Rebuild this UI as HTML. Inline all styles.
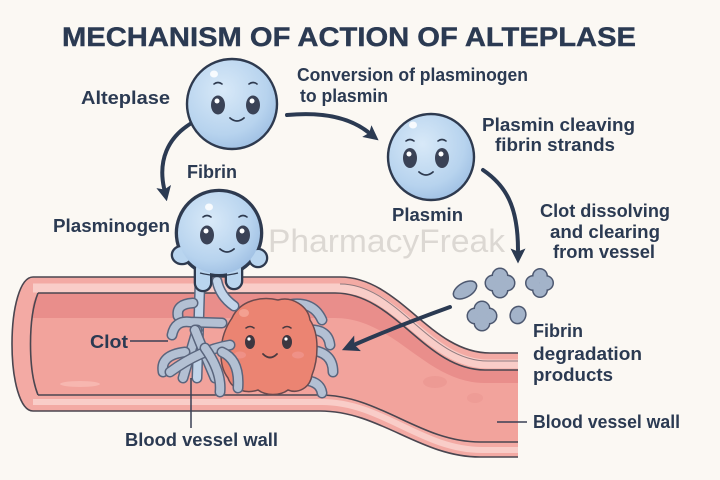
<!DOCTYPE html>
<html><head><meta charset="utf-8"><style>
html,body{margin:0;padding:0;background:#fbf8f3;}
svg{display:block;}
text{font-family:"Liberation Sans",sans-serif;font-weight:bold;fill:#2b3a52;}
</style></head><body>
<svg width="720" height="480" viewBox="0 0 720 480" xmlns="http://www.w3.org/2000/svg">
<defs>
<radialGradient id="bg" cx="0.4" cy="0.35" r="0.7">
<stop offset="0" stop-color="#d8e9f8"/><stop offset="0.7" stop-color="#b7d3ee"/><stop offset="1" stop-color="#9ebfe3"/>
</radialGradient>
<marker id="ah" viewBox="0 0 10 10" refX="1" refY="5" markerWidth="15" markerHeight="15" markerUnits="userSpaceOnUse" orient="auto">
<path d="M0,0 L10,5 L0,10 L2,5 z" fill="#2b3a52"/>
</marker>
<marker id="ah2" viewBox="0 0 10 10" refX="1" refY="5" markerWidth="17" markerHeight="17" markerUnits="userSpaceOnUse" orient="auto">
<path d="M0,0 L10,5 L0,10 L2,5 z" fill="#2b3a52"/>
</marker>
</defs>
<rect width="720" height="480" fill="#fbf8f3"/>

<!-- Title -->
<text x="62" y="46" font-size="27" textLength="574" lengthAdjust="spacingAndGlyphs" fill="#2e3d57" stroke="#2e3d57" stroke-width="0.4">MECHANISM OF ACTION OF ALTEPLASE</text>

<!-- Watermark -->
<text x="268" y="252" font-size="32" textLength="237" lengthAdjust="spacingAndGlyphs" style="font-weight:normal;fill:#dcd8d3">PharmacyFreak</text>

<!-- Arrows -->
<g fill="none" stroke="#2b3a52" stroke-width="4" stroke-linecap="round">
<path d="M287,115 Q340,110 368,132" marker-end="url(#ah)"/>
<path d="M190,124 C168,138 158,160 164,188" marker-end="url(#ah)"/>
<path d="M483,170 C505,185 518,205 518,250" marker-end="url(#ah)"/>
</g>

<!-- Alteplase -->
<circle cx="232" cy="104" r="45" fill="url(#bg)" stroke="#2e3a4f" stroke-width="2.4"/>
<ellipse cx="214" cy="74" rx="4" ry="3.5" fill="#fff" opacity="0.85"/>
<g fill="none" stroke="#2e3a4f" stroke-width="1.6" stroke-linecap="round">
<path d="M214,84 Q218,81 222,84"/><path d="M249,84 Q253,81 257,84"/>
<path d="M230,118 Q237,124 244,118" stroke-width="1.8"/>
</g>
<ellipse cx="218" cy="105" rx="7" ry="9.5" fill="#3a4256"/><circle cx="217" cy="101" r="2.5" fill="#fff"/>
<ellipse cx="253" cy="105" rx="7" ry="9.5" fill="#3a4256"/><circle cx="252" cy="101" r="2.5" fill="#fff"/>

<!-- Plasmin -->
<circle cx="431" cy="157" r="43" fill="url(#bg)" stroke="#2e3a4f" stroke-width="2.4"/>
<ellipse cx="413" cy="125" rx="4" ry="3.5" fill="#fff" opacity="0.85"/>
<g fill="none" stroke="#2e3a4f" stroke-width="1.6" stroke-linecap="round">
<path d="M406,141 Q410,138 414,141"/><path d="M438,141 Q442,138 446,141"/>
<path d="M419,172 Q426,178 433,172" stroke-width="1.8"/>
</g>
<ellipse cx="410" cy="158" rx="7" ry="10" fill="#3a4256"/><circle cx="409" cy="154" r="2.5" fill="#fff"/>
<ellipse cx="442" cy="158" rx="7" ry="10" fill="#3a4256"/><circle cx="441" cy="154" r="2.5" fill="#fff"/>

<!-- Vessel -->
<path d="M33,277 L340,277 C400,277 430,353 490,353 L518,353 L518,457 L480,457 C420,457 380,411 320,411 L33,411 C20,411 12,380 12,344 C12,308 20,277 33,277 Z" fill="#f3aaa4"/>
<path d="M33,288 L338,288 C398,288 428,364 488,364 L518,364" fill="none" stroke="#f9cdc8" stroke-width="9"/>
<path d="M33,402 L322,402 C382,402 422,450 482,450 L518,450" fill="none" stroke="#f9cdc8" stroke-width="6"/>
<path d="M38,293 L335,293 C395,293 425,370 485,370 L518,370 L518,442 L480,442 C420,442 380,395 320,395 L38,395 C28,370 28,318 38,293 Z" fill="#f2a39c"/>
<path d="M38,293 L335,293 C395,293 425,370 485,370 L518,370 L518,383 L485,383 C425,383 395,318 335,318 L33,318 C31,308 33,300 38,293 Z" fill="#e98e8b"/>
<ellipse cx="80" cy="384" rx="20" ry="3" fill="#f7bcb5" opacity="0.8"/>
<ellipse cx="435" cy="382" rx="12" ry="6" fill="#e99590" opacity="0.6"/>
<ellipse cx="475" cy="398" rx="8" ry="5" fill="#e99590" opacity="0.5"/>
<g fill="none" stroke="#4a4650" stroke-width="1.6">
<path d="M518,353 L490,353 C430,353 400,277 340,277 L33,277 C20,277 12,308 12,344 C12,380 20,411 33,411 L320,411 C380,411 420,457 480,457 L518,457"/>
<path d="M38,293 L335,293 C395,293 425,370 485,370 L518,370"/>
<path d="M38,395 L320,395 C380,395 420,442 480,442 L518,442"/>
<path d="M38,293 C28,318 28,370 38,395"/>
<path d="M340,284 C398,284 428,361 488,361 L518,361" stroke-width="1" opacity="0.6"/>
</g>

<!-- Fibrin strands right (behind clot) -->
<g fill="none" stroke-linecap="round">
<g stroke="#5a657d" stroke-width="11">
<path d="M283,306 Q312,298 322,320"/><path d="M306,330 Q328,328 330,345"/>
<path d="M310,350 Q333,352 333,372"/><path d="M300,380 Q320,380 322,393"/>
</g>
<g stroke="#b3c0d3" stroke-width="8">
<path d="M283,306 Q312,298 322,320"/><path d="M306,330 Q328,328 330,345"/>
<path d="M310,350 Q333,352 333,372"/><path d="M300,380 Q320,380 322,393"/>
</g>
</g>

<!-- Clot -->
<path d="M232,318 C240,300 262,296 278,300 C292,296 308,306 310,320 C320,335 318,360 312,375 C310,388 298,394 288,390 C280,396 266,396 258,390 C246,394 232,390 228,378 C218,365 218,338 232,318 Z" fill="#eb8472" stroke="#6b4a4e" stroke-width="1.5"/>
<ellipse cx="244" cy="313" rx="5" ry="4" fill="#f5a899" opacity="0.8"/>
<ellipse cx="240" cy="355" rx="6" ry="3.5" fill="#f29a96" opacity="0.6"/>
<ellipse cx="298" cy="355" rx="6" ry="3.5" fill="#f29a96" opacity="0.6"/>
<g fill="none" stroke="#4b3a40" stroke-width="1.5" stroke-linecap="round">
<path d="M246,328 Q250,325 254,328"/><path d="M283,328 Q287,325 291,328"/>
<path d="M263,354 Q270,361 277,354" stroke-width="1.8"/>
</g>
<ellipse cx="250" cy="342" rx="5" ry="7" fill="#3d3640"/><circle cx="249" cy="339" r="1.6" fill="#fff"/>
<ellipse cx="287" cy="342" rx="5" ry="7" fill="#3d3640"/><circle cx="286" cy="339" r="1.6" fill="#fff"/>

<!-- Stalks from plasminogen -->
<g fill="none" stroke-linecap="round">
<path d="M200,282 L197,378" stroke="#5a657d" stroke-width="11"/>
<path d="M200,282 L197,378" stroke="#c2d5ea" stroke-width="8"/>
<path d="M217,281 Q220,296 234,306" stroke="#5a657d" stroke-width="11"/>
<path d="M217,281 Q220,296 234,306" stroke="#c2d5ea" stroke-width="8"/>
</g>

<!-- Fibrin strands left (over clot) -->
<g fill="none" stroke-linecap="round">
<path d="M193,303 Q176,304 178,316" stroke="#5a657d" stroke-width="11"/><path d="M193,303 Q176,304 178,316" stroke="#b3c0d3" stroke-width="8"/>
<path d="M172,335 Q175,320 190,322 L222,323" stroke="#5a657d" stroke-width="11"/><path d="M172,335 Q175,320 190,322 L222,323" stroke="#b3c0d3" stroke-width="8"/>
<path d="M183,378 L197,330" stroke="#5a657d" stroke-width="11"/><path d="M183,378 L197,330" stroke="#b3c0d3" stroke-width="8"/>
<path d="M195,330 Q205,355 215,378" stroke="#5a657d" stroke-width="11"/><path d="M195,330 Q205,355 215,378" stroke="#b3c0d3" stroke-width="8"/>
<path d="M185,352 Q160,355 163,372" stroke="#5a657d" stroke-width="11"/><path d="M185,352 Q160,355 163,372" stroke="#b3c0d3" stroke-width="8"/>
<path d="M170,372 Q200,350 230,345" stroke="#5a657d" stroke-width="11"/><path d="M170,372 Q200,350 230,345" stroke="#b3c0d3" stroke-width="8"/>
<path d="M222,352 Q240,360 238,388" stroke="#5a657d" stroke-width="11"/><path d="M222,352 Q240,360 238,388" stroke="#b3c0d3" stroke-width="8"/>
<path d="M205,348 Q222,372 220,392" stroke="#5a657d" stroke-width="11"/><path d="M205,348 Q222,372 220,392" stroke="#b3c0d3" stroke-width="8"/>
</g>

<!-- Plasminogen -->
<g fill="#2e3a4f" stroke="#2e3a4f" stroke-width="4.6">
<circle cx="219" cy="233" r="42"/>
<ellipse cx="182" cy="255" rx="9" ry="8"/>
<ellipse cx="258" cy="258" rx="8" ry="8"/>
<rect x="196" y="262" width="14" height="28" rx="7"/>
<rect x="227" y="262" width="14" height="26" rx="7"/>
</g>
<g fill="#b9d5ef">
<ellipse cx="182" cy="255" rx="9" ry="8"/>
<ellipse cx="258" cy="258" rx="8" ry="8"/>
<rect x="196" y="262" width="14" height="28" rx="7"/>
<rect x="227" y="262" width="14" height="26" rx="7"/>
</g>
<circle cx="219" cy="233" r="41" fill="url(#bg)"/>
<path d="M200,273 Q219,278 238,273" fill="none" stroke="#2e3a4f" stroke-width="1.4"/>
<ellipse cx="209" cy="207" rx="4" ry="3.5" fill="#fff" opacity="0.85"/>
<g fill="none" stroke="#2e3a4f" stroke-width="1.6" stroke-linecap="round">
<path d="M203,217 Q207,214 211,217"/><path d="M239,217 Q243,214 247,217"/>
<path d="M220,249 Q227,255 234,249" stroke-width="1.8"/>
</g>
<ellipse cx="207" cy="235" rx="7" ry="9.5" fill="#3a4256"/><circle cx="206" cy="231" r="2.5" fill="#fff"/>
<ellipse cx="243" cy="235" rx="7" ry="9.5" fill="#3a4256"/><circle cx="242" cy="231" r="2.5" fill="#fff"/>

<!-- Fibrin degradation products -->
<g fill="#4d5870" stroke="#4d5870" stroke-width="3">
<ellipse cx="465" cy="290" rx="12" ry="6.5" transform="rotate(-30 465 290)"/>
<circle cx="493" cy="283" r="7"/><circle cx="507" cy="283" r="7"/><circle cx="500" cy="276" r="7"/><circle cx="500" cy="290" r="7"/>
<circle cx="533" cy="283" r="6.5"/><circle cx="546" cy="283" r="6.5"/><circle cx="540" cy="276" r="6.5"/><circle cx="540" cy="290" r="6.5"/>
<circle cx="475" cy="316" r="7"/><circle cx="489" cy="316" r="7"/><circle cx="482" cy="309" r="7"/><circle cx="482" cy="323" r="7"/>
<ellipse cx="518" cy="315" rx="7" ry="8" transform="rotate(20 518 315)"/>
</g>
<g fill="#a3b3c9">
<ellipse cx="465" cy="290" rx="12" ry="6.5" transform="rotate(-30 465 290)"/>
<circle cx="493" cy="283" r="7"/><circle cx="507" cy="283" r="7"/><circle cx="500" cy="276" r="7"/><circle cx="500" cy="290" r="7"/>
<circle cx="533" cy="283" r="6.5"/><circle cx="546" cy="283" r="6.5"/><circle cx="540" cy="276" r="6.5"/><circle cx="540" cy="290" r="6.5"/>
<circle cx="475" cy="316" r="7"/><circle cx="489" cy="316" r="7"/><circle cx="482" cy="309" r="7"/><circle cx="482" cy="323" r="7"/>
<ellipse cx="518" cy="315" rx="7" ry="8" transform="rotate(20 518 315)"/>
</g>

<!-- Arrow to clot -->
<path d="M450,307 Q400,325 356,344" fill="none" stroke="#2b3a52" stroke-width="4" stroke-linecap="round" marker-end="url(#ah2)"/>

<!-- Leader lines -->
<g stroke="#3a4055" stroke-width="1.5">
<line x1="130" y1="341" x2="168" y2="341"/>
<line x1="191" y1="378" x2="191" y2="428"/>
<line x1="497" y1="422" x2="527" y2="422"/>
</g>

<!-- Labels -->
<g font-size="18">
<text x="81" y="104" textLength="89" lengthAdjust="spacingAndGlyphs">Alteplase</text>
<text x="297" y="81" textLength="231" lengthAdjust="spacingAndGlyphs">Conversion of plasminogen</text>
<text x="300" y="102" textLength="88" lengthAdjust="spacingAndGlyphs">to plasmin</text>
<text x="482" y="131" textLength="153" lengthAdjust="spacingAndGlyphs">Plasmin cleaving</text>
<text x="495" y="151" textLength="120" lengthAdjust="spacingAndGlyphs">fibrin strands</text>
<text x="187" y="178" textLength="50" lengthAdjust="spacingAndGlyphs">Fibrin</text>
<text x="53" y="232" textLength="117" lengthAdjust="spacingAndGlyphs">Plasminogen</text>
<text x="392" y="221" textLength="71" lengthAdjust="spacingAndGlyphs">Plasmin</text>
<text x="540" y="217" textLength="130" lengthAdjust="spacingAndGlyphs">Clot dissolving</text>
<text x="550" y="238" textLength="110" lengthAdjust="spacingAndGlyphs">and clearing</text>
<text x="553" y="258" textLength="102" lengthAdjust="spacingAndGlyphs">from vessel</text>
<text x="533" y="337" textLength="50" lengthAdjust="spacingAndGlyphs">Fibrin</text>
<text x="533" y="360" textLength="109" lengthAdjust="spacingAndGlyphs">degradation</text>
<text x="533" y="381" textLength="80" lengthAdjust="spacingAndGlyphs">products</text>
<text x="533" y="428" textLength="147" lengthAdjust="spacingAndGlyphs">Blood vessel wall</text>
<text x="125" y="446" textLength="153" lengthAdjust="spacingAndGlyphs">Blood vessel wall</text>
<text x="90" y="348" textLength="38" lengthAdjust="spacingAndGlyphs">Clot</text>
</g>
</svg>
</body></html>
